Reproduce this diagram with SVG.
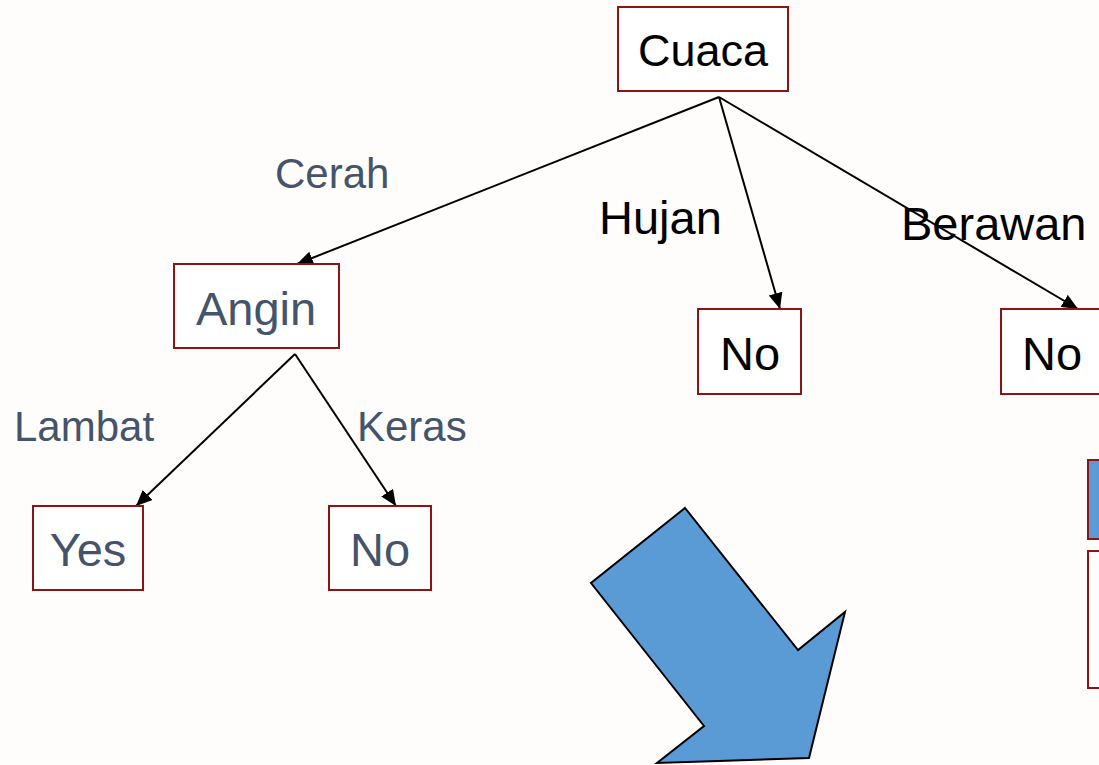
<svg xmlns="http://www.w3.org/2000/svg" width="1099" height="765" viewBox="0 0 1099 765">
<style>
.box{fill:#FFFFFF;stroke:#8B1414;stroke-width:2}
.t{font-family:"Liberation Sans",Arial,sans-serif;text-anchor:middle}
.blk{fill:#000000}
.gry{fill:#44546A}
.lbl{font-family:"Liberation Sans",Arial,sans-serif;font-size:42px;fill:#44546A}
.lblb{font-family:"Liberation Sans",Arial,sans-serif;font-size:47px;fill:#000000}
.edge{stroke:#000;stroke-width:2;fill:none;marker-end:url(#ah)}
</style>
<defs>
<marker id="ah" markerUnits="userSpaceOnUse" markerWidth="18" markerHeight="14" refX="16" refY="7" orient="auto">
<path d="M0,0 L16,7 L0,14 Z" fill="#000"/>
</marker>
</defs>
<rect x="0" y="0" width="1099" height="765" fill="#FEFDFC"/>
<g id="connectors">
<line class="edge" x1="719" y1="97" x2="297" y2="264"/>
<line class="edge" x1="719" y1="97" x2="780" y2="309"/>
<line class="edge" x1="719" y1="97" x2="1078" y2="309"/>
<line class="edge" x1="295" y1="354" x2="136" y2="506"/>
<line class="edge" x1="295" y1="354" x2="396" y2="506"/>
</g>
<g id="labels">
<text class="lbl" x="275" y="188">Cerah</text>
<text class="lblb" x="599" y="234">Hujan</text>
<text class="lblb" x="901" y="240">Berawan</text>
<text class="lbl" x="14" y="441">Lambat</text>
<text class="lbl" x="357" y="441">Keras</text>
</g>
<g id="node-cuaca"><rect class="box" x="618" y="7" width="170" height="84"/><text class="t blk" x="703" y="66" font-size="45">Cuaca</text></g>
<g id="node-angin"><rect class="box" x="174" y="264" width="165" height="84"/><text class="t gry" x="256" y="325" font-size="47">Angin</text></g>
<g id="node-no-hujan"><rect class="box" x="698" y="309" width="103" height="85"/><text class="t blk" x="750" y="370" font-size="47">No</text></g>
<g id="node-no-berawan"><rect class="box" x="1001" y="309" width="110" height="85"/><text class="t blk" x="1052" y="370" font-size="47">No</text></g>
<g id="node-yes"><rect class="box" x="33" y="506" width="110" height="84"/><text class="t gry" x="88" y="566" font-size="47">Yes</text></g>
<g id="node-no-keras"><rect class="box" x="329" y="506" width="102" height="84"/><text class="t gry" x="380" y="566" font-size="47">No</text></g>
<g id="side-blue"><rect x="1088" y="460" width="20" height="79" fill="#5B9BD5" stroke="#8B1414" stroke-width="2"/></g>
<g id="side-white"><rect class="box" x="1088" y="551" width="20" height="137"/></g>
<g id="big-arrow"><polygon points="685,508 798,650 845,612 809,758 657,763 704,726 591,583" fill="#5B9BD5" stroke="#000" stroke-width="2" stroke-linejoin="miter"/></g>
</svg>
